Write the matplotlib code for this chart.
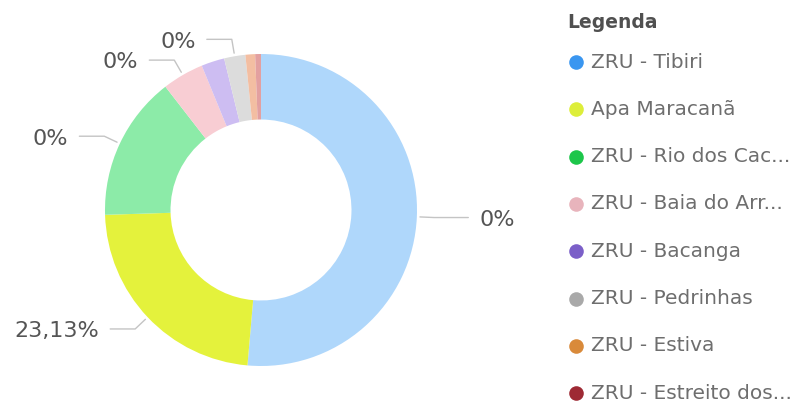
import numpy as np
import matplotlib
matplotlib.use("Agg")
import matplotlib.pyplot as plt
from matplotlib.lines import Line2D

# ---- data ----
categories = ["ZRU - Tibiri", "Apa Maracanã", "ZRU - Rio dos Cac...", "ZRU - Baia do Arr...",
              "ZRU - Bacanga", "ZRU - Pedrinhas", "ZRU - Estiva", "ZRU - Estreito dos..."]
values = [51.4, 23.13, 15.0, 4.3, 2.4, 2.2, 1.0, 0.6]
slice_labels = ["0%", "23,13%", "0%", "0%", None, "0%", None, None]
legend_colors = ["#3A96F0", "#DDEE3A", "#1DC64A", "#E8B4BC", "#7B5FC8", "#A9A9A9", "#D98A3A", "#9E2A34"]
slice_colors = ["#AFD7FB", "#E4F23C", "#8CEBA8", "#F8CDD3", "#CDBDF2", "#DCDCDC", "#F3BEA2", "#E3A0A0"]

W, H = 798, 405
fig = plt.figure(figsize=(W / 100, H / 100), dpi=100)
fig.patch.set_facecolor("white")

# donut axes: center (261,210) px, radius 156 px
cx, cy, R = 261, 210, 156
axw = 560
ax = fig.add_axes([0, 0, axw / W, 1])
ax.axis("off")

wedges, _ = ax.pie(values, colors=slice_colors, startangle=90, counterclock=False,
                   radius=1.0, wedgeprops=dict(width=0.42, edgecolor="none"))
ax.set_aspect("auto")
ax.set_xlim(-cx / R, (axw - cx) / R)
ax.set_ylim(-(H - cy) / R, cy / R)

line_c = "#C4C4C4"
for w, lab in zip(wedges, slice_labels):
    if lab is None:
        continue
    th = np.deg2rad((w.theta1 + w.theta2) / 2)
    c, s = np.cos(th), np.sin(th)
    p1 = (1.02 * c, 1.02 * s)
    p2 = (1.11 * c, 1.11 * s)
    side = 1 if c >= 0 else -1
    hl = 0.22 if side > 0 else 0.16
    p3 = (p2[0] + side * hl, p2[1])
    ax.plot([p1[0], p2[0], p3[0]], [p1[1], p2[1], p3[1]], color=line_c, lw=1.0,
            solid_capstyle="round")
    ax.text(p3[0] + side * 0.07, p3[1] - 0.015, lab, ha="left" if side > 0 else "right",
            va="center", fontsize=16, color="#555555")

# legend
fig.text(567 / W, 1 - 22 / H, "Legenda", fontsize=13.5, fontweight="bold", color="#505050",
         ha="left", va="center")
for i, (cat, col) in enumerate(zip(categories, legend_colors)):
    y = 62 + 47.3 * i
    fig.lines.append(Line2D([576 / W], [1 - y / H], marker="o", markersize=10.5,
                            markerfacecolor=col, markeredgecolor="none",
                            transform=fig.transFigure))
    fig.text(591 / W, 1 - y / H, cat, fontsize=14.5, color="#6E6E6E", ha="left", va="center")

fig.savefig("out.png", dpi=100, facecolor="white")
